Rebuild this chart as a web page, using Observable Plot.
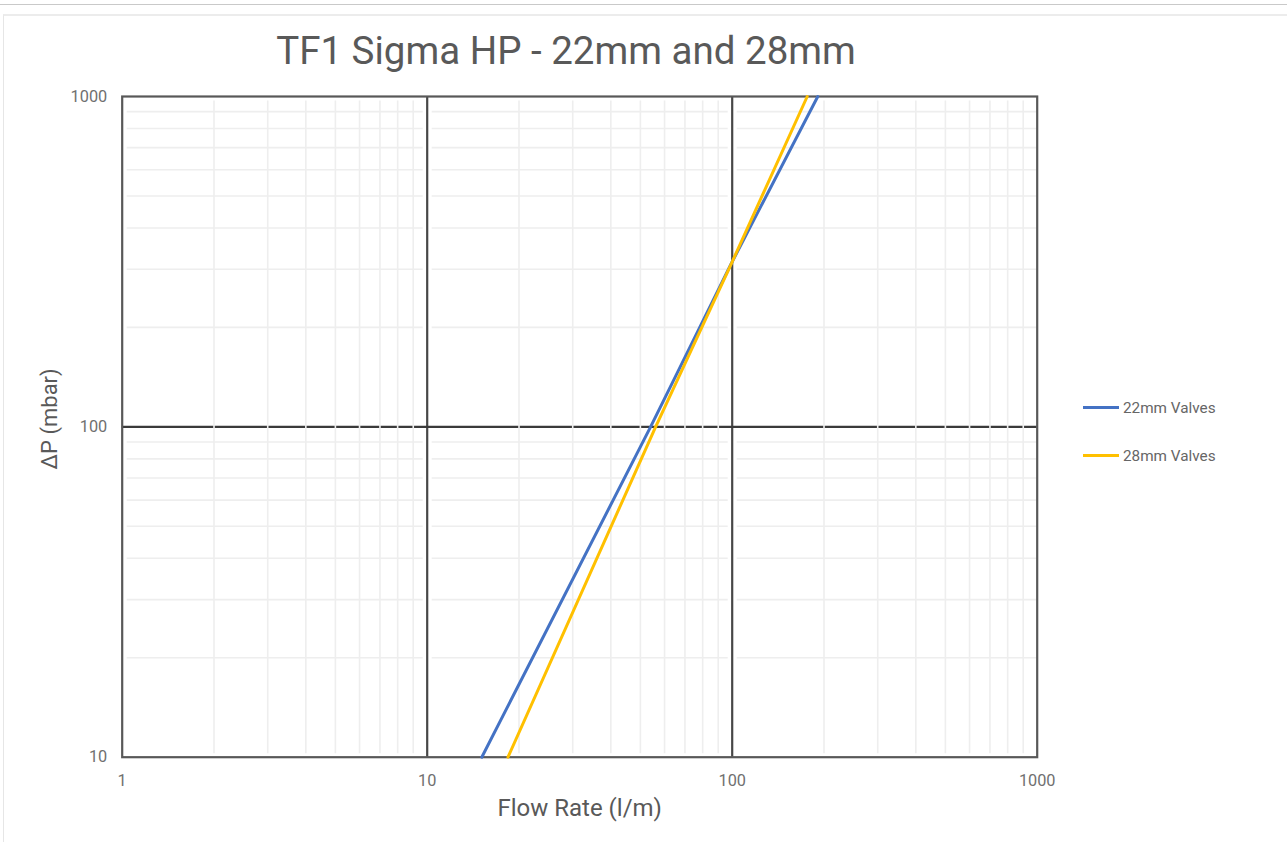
<!DOCTYPE html>
<html>
<head>
<meta charset="utf-8">
<script src="https://cdn.jsdelivr.net/npm/d3@7"></script>
<script src="https://cdn.jsdelivr.net/npm/@observablehq/plot@0.6"></script>
<style>
  html, body { margin: 0; padding: 0; background: #fff; }
  body { width: 1287px; height: 842px; overflow: hidden; position: relative; font-family: Roboto, "Noto Sans", sans-serif; }
  #topline { position: absolute; left: 0; top: 4px; width: 1287px; height: 1px; background: #c9c9c9; }
  #card { position: absolute; left: 3px; top: 14px; width: 1300px; height: 900px; border-left: 1px solid #e6e6e6; border-top: 2px solid #ececec; box-sizing: border-box; }
  #chart { position: absolute; left: 0; top: 0; }
  #title { position: absolute; left: 0; top: 32px; width: 1132px; text-align: center; font-size: 38.5px; line-height: 38px; color: #595959; white-space: nowrap; }
  .leg { position: absolute; left: 1083px; height: 20px; font-size: 15.3px; line-height: 20px; color: #666; white-space: nowrap; }
  .leg .sw { display: inline-block; width: 36px; height: 3px; vertical-align: middle; margin-right: 4px; position: relative; top: -1px; }
</style>
</head>
<body>
<div id="topline"></div>
<div id="card"></div>
<div id="chart"></div>
<div id="title">TF1 Sigma HP - 22mm and 28mm</div>
<div id="legend"></div>
<script>
// ---- data ----
const seriesNames = ["22mm Valves", "28mm Valves"];
const seriesColors = ["#4472c4", "#ffc000"];
const flow22 = [15.1, 54, 100, 190.8];       // l/m
const dp22   = [10, 100, 316, 1000];         // mbar
const flow28 = [18.4, 56.1, 100, 176.2];     // l/m
const dp28   = [10, 100, 316, 1000];         // mbar
const xTicks = [1, 10, 100, 1000];
const yTicks = [10, 100, 1000];
const xMajorGrid = [10, 100];
const yMajorGrid = [100];
const xMinorGrid = [2,3,4,5,6,7,8,9,20,30,40,50,60,70,80,90,200,300,400,500,600,700,800,900];
const yMinorGrid = [20,30,40,50,60,70,80,90,200,300,400,500,600,700,800,900];
const xLabel = "Flow Rate (l/m)";
const yLabel = "ΔP (mbar)";

const rows22 = flow22.map((f, i) => ({flow: f, dp: dp22[i], series: seriesNames[0]}));
const rows28 = flow28.map((f, i) => ({flow: f, dp: dp28[i], series: seriesNames[1]}));

const chart = Plot.plot({
  width: 1287,
  height: 842,
  marginLeft: 121.7,
  marginRight: 250.3,
  marginTop: 96,
  marginBottom: 85.3,
  style: {fontFamily: "Roboto, 'Noto Sans', sans-serif", background: "transparent"},
  x: {type: "log", domain: [1, 1000]},
  y: {type: "log", domain: [10, 1000]},
  marks: [
    Plot.ruleY(yMinorGrid, {stroke: "#eeeeee", strokeWidth: 1.6}),
    Plot.ruleX([1, 10, 100], {stroke: "#ffffff", strokeWidth: 9}),
    Plot.ruleX(xMajorGrid, {stroke: "#474747", strokeWidth: 2.2}),
    Plot.ruleY(yMajorGrid, {stroke: "#3a3a3a", strokeWidth: 2.4}),
    Plot.ruleX(xMinorGrid, {stroke: "#eeeeee", strokeWidth: 1.6, insetTop: 4.5, insetBottom: 3.5}),
    Plot.frame({stroke: "#585858", strokeWidth: 2.2}),
    Plot.axisX(xTicks, {tickSize: 0, tickPadding: 17, tickFormat: d => String(d), fontSize: 16.3, fill: "#707070", label: null}),
    Plot.axisY(yTicks, {tickSize: 0, tickPadding: 15, tickFormat: d => String(d), fontSize: 16.3, fill: "#707070", label: null}),
    Plot.line(rows22, {x: "flow", y: "dp", stroke: seriesColors[0], strokeWidth: 3}),
    Plot.line(rows28, {x: "flow", y: "dp", stroke: seriesColors[1], strokeWidth: 3}),
    Plot.text([xLabel], {frameAnchor: "bottom", text: d => d, dy: 51, lineAnchor: "middle", fontSize: 24, fill: "#595959"}),
    Plot.text([yLabel], {frameAnchor: "left", text: d => d, dx: -72.7, dy: -8, rotate: -90, lineAnchor: "middle", textAnchor: "middle", fontSize: 22, fill: "#595959"})
  ]
});
document.getElementById("chart").appendChild(chart);

const legend = document.getElementById("legend");
const legTops = [398, 446];
seriesNames.forEach((name, i) => {
  const d = document.createElement("div");
  d.className = "leg";
  d.style.top = legTops[i] + "px";
  const sw = document.createElement("span");
  sw.className = "sw";
  sw.style.background = seriesColors[i];
  d.appendChild(sw);
  d.appendChild(document.createTextNode(name));
  legend.appendChild(d);
});
</script>
</body>
</html>
